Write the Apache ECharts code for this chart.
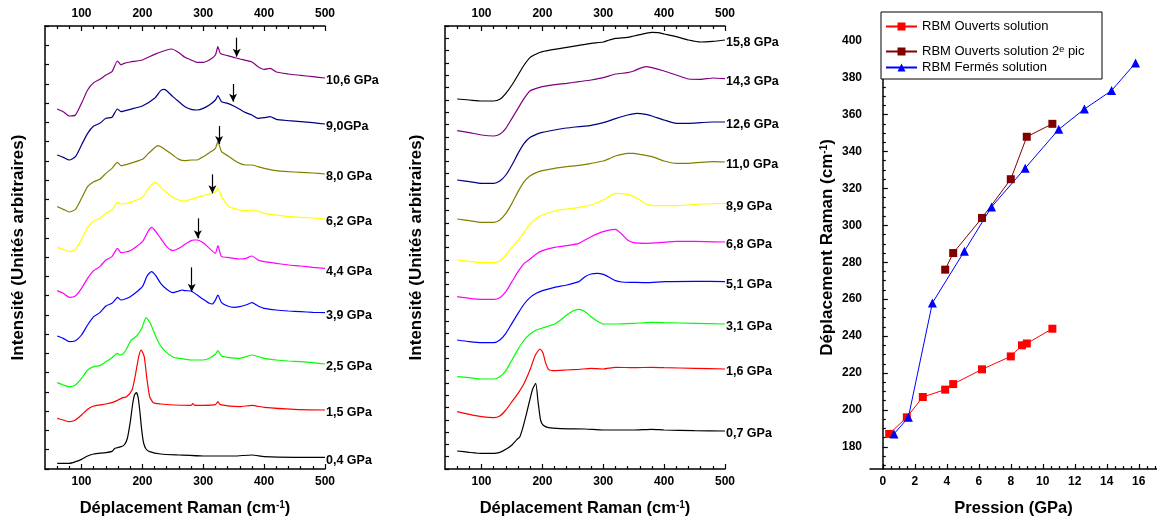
<!DOCTYPE html>
<html><head><meta charset="utf-8">
<script src="https://cdn.jsdelivr.net/npm/echarts@6/dist/echarts.min.js"></script>
<style>html,body{margin:0;padding:0;background:#fff}#c{width:1157px;height:523px}</style>
</head><body><div id="c"></div>
<script>
// ---------- Left panel spectra: [wavenumber (cm-1), stacked intensity (a.u.)] ----------
const L_0_4 = [[60,17],[80,17],[90,22],[100,29],[110,39],[120,45],[140,49],[150,53],[155,62],[165,67],[170,72],[175,90],[180,140],[184,195],[187,222],[190,229],[193,215],[196,170],[199,115],[202,78],[206,60],[212,52],[230,45],[260,42],[300,39],[350,39],[380,42],[400,37],[450,35],[500,35]];
const L_1_5 = [[60,152],[70,147],[80,142],[90,147],[100,162],[110,179],[120,189],[140,195],[150,199],[160,207],[168,214],[174,217],[183,237],[188,277],[194,337],[198,357],[203,337],[207,277],[212,217],[218,199],[230,195],[250,192],[280,191],[283,196],[286,191],[300,191],[320,193],[324,202],[328,193],[360,187],[380,191],[400,185],[450,179],[500,177]];
const L_2_5 = [[60,259],[70,252],[80,247],[90,252],[100,272],[110,297],[120,307],[130,310],[140,322],[150,334],[159,347],[163,342],[168,345],[174,360],[181,385],[191,400],[199,422],[206,454],[213,437],[221,402],[229,372],[238,352],[251,335],[260,332],[280,327],[300,327],[310,332],[320,345],[324,355],[330,339],[340,335],[360,332],[380,342],[400,332],[420,327],[440,324],[460,322],[480,319],[500,315]];
const L_3_9 = [[60,399],[70,392],[80,382],[90,385],[100,402],[110,432],[120,457],[130,469],[140,489],[150,497],[155,507],[159,515],[165,507],[180,517],[200,547],[208,580],[215,592],[222,580],[230,557],[240,539],[250,529],[260,534],[265,537],[270,535],[280,534],[290,522],[300,509],[310,497],[315,495],[320,507],[324,522],[330,499],[340,489],[350,485],[360,487],[370,492],[380,499],[390,489],[400,482],[420,477],[440,474],[460,472],[480,470],[500,469]];
const L_4_4 = [[60,535],[70,527],[80,515],[90,519],[100,542],[110,572],[120,595],[130,607],[140,627],[150,637],[159,662],[165,649],[180,655],[200,682],[210,715],[215,725],[220,717],[230,692],[240,667],[250,655],[260,662],[270,674],[280,685],[285,687],[290,687],[300,679],[310,662],[320,647],[324,670],[330,637],[340,635],[350,632],[360,630],[370,632],[380,639],[390,627],[400,622],[420,617],[440,612],[460,609],[480,605],[500,602]];
const L_6_2 = [[60,665],[70,659],[80,652],[90,659],[100,689],[110,724],[120,744],[130,752],[140,767],[150,777],[159,800],[165,795],[180,800],[200,815],[210,842],[220,860],[225,855],[230,845],[240,829],[250,815],[260,807],[270,804],[280,809],[290,815],[300,820],[310,825],[320,832],[324,842],[330,817],[342,787],[350,782],[360,777],[370,775],[380,777],[390,774],[400,767],[420,762],[440,757],[460,755],[480,753],[500,750]];
const L_8_0 = [[60,787],[70,779],[80,771],[90,779],[100,812],[110,847],[120,862],[130,869],[140,887],[150,902],[159,920],[165,910],[180,917],[200,929],[210,947],[220,964],[226,970],[232,965],[240,955],[250,942],[260,929],[270,925],[280,927],[290,927],[300,937],[310,949],[320,962],[324,982],[330,952],[340,940],[350,927],[360,917],[370,912],[380,912],[390,907],[400,902],[420,895],[440,892],[460,890],[480,888],[500,885]];
const L_9_0 = [[60,942],[70,935],[80,927],[90,937],[100,972],[110,1007],[120,1029],[130,1037],[140,1052],[150,1055],[159,1080],[165,1072],[180,1079],[200,1089],[220,1112],[230,1135],[235,1139],[240,1135],[250,1117],[260,1102],[270,1087],[280,1079],[290,1077],[300,1082],[310,1092],[320,1107],[324,1120],[330,1102],[340,1097],[350,1089],[360,1079],[370,1069],[380,1062],[390,1052],[400,1054],[410,1057],[420,1049],[440,1045],[460,1042],[480,1039],[500,1035]];
const L_10_6 = [[60,1080],[70,1072],[80,1059],[90,1062],[100,1097],[110,1137],[120,1159],[130,1169],[140,1182],[150,1192],[159,1224],[165,1212],[170,1217],[180,1221],[200,1227],[220,1244],[240,1257],[248,1260],[260,1249],[270,1235],[280,1227],[290,1220],[300,1220],[310,1227],[320,1242],[324,1267],[328,1247],[340,1240],[350,1235],[360,1230],[370,1226],[380,1221],[390,1207],[400,1199],[410,1202],[420,1191],[440,1185],[460,1181],[480,1177],[500,1173]];

// ---------- Middle panel spectra ----------
const M_0_7 = [[60,54],[80,50],[100,47],[120,47],[130,50],[140,59],[150,72],[158,88],[163,97],[168,125],[174,167],[179,205],[184,240],[189,257],[193,200],[197,147],[201,132],[210,124],[230,121],[270,120],[300,117],[350,117],[380,119],[400,117],[450,115],[500,114]];
const M_1_6 = [[60,172],[80,164],[100,157],[120,154],[130,159],[140,177],[150,202],[160,227],[170,257],[180,299],[188,340],[196,360],[201,348],[205,320],[210,299],[220,295],[240,297],[260,299],[280,302],[300,300],[320,305],[350,304],[380,305],[400,304],[450,302],[500,300]];
const M_3_1 = [[60,277],[80,274],[100,270],[120,270],[130,277],[140,295],[150,327],[160,359],[170,387],[180,405],[190,417],[200,423],[220,435],[230,447],[240,462],[250,474],[260,479],[270,472],[280,457],[290,444],[300,435],[320,435],[350,437],[380,440],[400,439],[450,437],[500,435]];
const M_5_1 = [[60,387],[80,382],[100,379],[120,379],[130,387],[140,407],[150,437],[160,467],[170,495],[180,515],[190,527],[200,535],[220,545],[240,552],[260,562],[270,577],[280,585],[290,587],[300,584],[310,575],[320,565],[330,561],[350,560],[370,559],[400,562],[450,563],[500,562]];
const M_6_8 = [[60,517],[80,512],[100,509],[120,509],[130,514],[140,532],[150,562],[160,592],[170,617],[180,630],[190,645],[200,655],[220,665],[240,670],[260,677],[280,697],[300,712],[320,719],[330,705],[340,687],[350,679],[370,677],[400,680],[420,683],[450,683],[500,681]];
const M_8_9 = [[60,627],[80,623],[100,619],[120,619],[130,624],[140,642],[150,665],[160,685],[170,710],[180,735],[190,752],[200,762],[220,774],[240,780],[260,785],[280,792],[300,807],[320,827],[340,824],[350,817],[360,807],[370,795],[380,791],[400,790],[420,790],[440,792],[460,795],[480,796],[500,797]];
const M_11_0 = [[60,750],[80,745],[100,740],[120,740],[130,747],[140,767],[150,797],[160,832],[170,862],[180,880],[190,889],[200,895],[220,902],[240,907],[260,911],[280,917],[300,924],[310,931],[320,939],[340,947],[350,947],[360,944],[380,937],[400,924],[420,917],[440,917],[460,920],[480,922],[500,921]];
const M_12_6 = [[60,867],[80,862],[100,857],[120,857],[130,864],[140,882],[150,912],[160,947],[170,977],[180,995],[190,1004],[200,1010],[220,1017],[240,1023],[260,1027],[280,1031],[300,1039],[320,1051],[340,1062],[355,1067],[370,1064],[380,1059],[400,1047],[420,1037],[440,1037],[460,1039],[480,1041],[500,1041]];
const M_14_3 = [[60,1015],[80,1009],[100,1002],[120,999],[130,1004],[140,1022],[150,1052],[160,1082],[170,1112],[180,1135],[190,1142],[200,1147],[220,1153],[240,1157],[260,1162],[280,1167],[300,1174],[320,1185],[340,1189],[350,1194],[360,1202],[370,1207],[380,1204],[400,1194],[420,1182],[440,1170],[460,1169],[480,1173],[500,1171]];
const M_15_8 = [[60,1110],[80,1107],[100,1104],[120,1104],[130,1109],[140,1127],[150,1152],[160,1182],[170,1212],[180,1235],[190,1245],[200,1252],[220,1259],[240,1265],[260,1271],[280,1277],[300,1281],[310,1287],[320,1292],[340,1295],[350,1299],[360,1303],[370,1307],[380,1310],[390,1309],[400,1305],[420,1297],[440,1287],[460,1281],[480,1283],[500,1287]];

// ---------- Spectrum names / colours ----------
const leftNames  = ['0,4 GPa','1,5 GPa','2,5 GPa','3,9 GPa','4,4 GPa','6,2 GPa','8,0 GPa','9,0GPa','10,6 GPa'];
const leftData   = [L_0_4, L_1_5, L_2_5, L_3_9, L_4_4, L_6_2, L_8_0, L_9_0, L_10_6];
const leftColors = ['#000000','#ff0000','#00ff00','#0000ff','#ff00ff','#ffff00','#808000','#000080','#800080'];
const midNames   = ['0,7 GPa','1,6 GPa','3,1 GPa','5,1 GPa','6,8 GPa','8,9 GPa','11,0 GPa','12,6 GPa','14,3 GPa','15,8 GPa'];
const midData    = [M_0_7, M_1_6, M_3_1, M_5_1, M_6_8, M_8_9, M_11_0, M_12_6, M_14_3, M_15_8];
const midColors  = ['#000000','#ff0000','#00ff00','#0000ff','#ff00ff','#ffff00','#808000','#000080','#800080','#000000'];

// arrows marking the second RBM peak (wavenumber, arrow start, arrow tip)
const arrows = [
  {spec:'10,6 GPa', x:355, from:1294, to:1237},
  {spec:'9,0GPa',   x:349, from:1155, to:1102},
  {spec:'8,0 GPa',  x:326, from:1029, to:975},
  {spec:'6,2 GPa',  x:315, from:884,  to:827},
  {spec:'4,4 GPa',  x:291, from:752,  to:692},
  {spec:'3,9 GPa',  x:281, from:605,  to:532}
];

// ---------- Right panel: RBM position vs pressure ----------
const P_open   = [0.4, 1.5, 2.5, 3.9, 4.4, 6.2, 8.0, 8.7, 9.0, 10.6];
const W_open   = [187, 196, 207, 211, 214, 222, 229, 235, 236, 244];
const P_open2  = [3.9, 4.4, 6.2, 8.0, 9.0, 10.6];
const W_open2  = [276, 285, 304, 325, 348, 355];
const P_closed = [0.7, 1.6, 3.1, 5.1, 6.8, 8.9, 11.0, 12.6, 14.3, 15.8];
const W_closed = [187, 196, 258, 286, 310, 331, 352, 363, 373, 388];

// tick labels
const ramanMajor = [100, 200, 300, 400, 500];
const ramanMinor = [60, 80, 120, 140, 160, 180, 220, 240, 260, 280, 320, 340, 360, 380, 420, 440, 460, 480];
const pressMajor = [0, 2, 4, 6, 8, 10, 12, 14, 16];
const pressMinor = [0.5,1,1.5,2.5,3,3.5,4.5,5,5.5,6.5,7,7.5,8.5,9,9.5,10.5,11,11.5,12.5,13,13.5,14.5,15,15.5,16.5,17];
const shiftMajor = [180, 200, 220, 240, 260, 280, 300, 320, 340, 360, 380, 400];
const shiftMinor = [170,175,185,190,195,205,210,215,225,230,235,245,250,255,265,270,275,285,290,295,305,310,315,325,330,335,345,350,355,365,370,375,385,390,395,405];

const FONT = '"Liberation Sans", Arial, Helvetica, sans-serif';
const axLine = {show:true, lineStyle:{color:'#000', width:1.5}};
const tickStyle = {color:'#000', width:1.2};
const titleStyle = {fontFamily:FONT, fontWeight:'bold', fontSize:17, color:'#000',
  rich:{sup:{fontFamily:FONT, fontWeight:'bold', fontSize:10, color:'#000', verticalAlign:'top', lineHeight:12}}};
const xTitleStyle = Object.assign({}, titleStyle, {fontSize:16.5});
const labelStyle = {fontFamily:FONT, fontWeight:'bold', fontSize:12, color:'#000'};

function ramanAxes(g){
  return [
    {type:'value', gridIndex:g, position:'bottom', min:40, max:500, axisLine:axLine,
     axisTick:{show:true, inside:true, length:5, customValues:ramanMajor, lineStyle:tickStyle},
     axisLabel:Object.assign({customValues:ramanMajor, margin:7}, labelStyle), splitLine:{show:false},
     name:'Déplacement Raman (cm{sup|-1})', nameLocation:'middle', nameGap:31, nameTextStyle:xTitleStyle},
    {type:'value', gridIndex:g, position:'top', min:40, max:500, axisLine:axLine,
     axisTick:{show:true, inside:true, length:5, customValues:ramanMajor, lineStyle:tickStyle},
     axisLabel:Object.assign({customValues:ramanMajor, margin:6}, labelStyle), splitLine:{show:false}},
    {type:'value', gridIndex:g, position:'bottom', min:40, max:500, axisLine:{show:false},
     axisTick:{show:true, inside:true, length:3, customValues:ramanMinor, lineStyle:tickStyle},
     axisLabel:{show:false}, splitLine:{show:false}},
    {type:'value', gridIndex:g, position:'top', min:40, max:500, axisLine:{show:false},
     axisTick:{show:true, inside:true, length:3, customValues:ramanMinor, lineStyle:tickStyle},
     axisLabel:{show:false}, splitLine:{show:false}}
  ];
}
function intensityAxis(g, n, gap){
  return {type:'value', gridIndex:g, position:'left', min:0, max:1329, interval:1329/n, axisLine:axLine,
    axisTick:{show:true, inside:true, length:4, lineStyle:tickStyle}, axisLabel:{show:false},
    splitLine:{show:false}, name:'Intensité (Unités arbitraires)', nameLocation:'middle',
    nameRotate:90, nameGap:gap, nameTextStyle:titleStyle};
}

function specSeries(names, datas, colors, xi, yi){
  return names.map((nm, i) => {
    const s = {type:'line', name:nm, xAxisIndex:xi, yAxisIndex:yi, data:datas[i],
      showSymbol:false, symbol:'none', smooth:0.2, color:colors[i],
      lineStyle:{color:colors[i], width:1.2}, emphasis:{disabled:true},
      endLabel:{show:true, formatter:nm, distance:1, offset:[0,3], fontFamily:FONT, fontWeight:'bold', fontSize:12.5, color:'#000'}};
    const arr = arrows.filter(a => a.spec === nm);
    if (arr.length) {
      s.markLine = {silent:true, symbol:['none','arrow'], symbolSize:[6,8], animation:false,
        lineStyle:{color:'#000', width:1.2, type:'solid'}, label:{show:false}, emphasis:{disabled:true},
        data: arr.map(a => [{coord:[a.x, a.from]}, {coord:[a.x, a.to]}])};
    }
    return s;
  });
}

const zip = (a, b) => a.map((v, i) => [v, b[i]]);
const legendText = {fontFamily:FONT, fontSize:13, color:'#000',
  rich:{sup:{fontFamily:FONT, fontSize:9, color:'#000', verticalAlign:'top', lineHeight:9}}};
const legendBase = {left:885, padding:0, itemWidth:31, itemHeight:10, itemGap:0, textStyle:legendText, z:5};

const option = {
  animation:false,
  backgroundColor:'#fff',
  grid:[
    {left:45, top:26, width:280, height:443},
    {left:445, top:26, width:280, height:443},
    {left:870, top:26, width:287, height:443}
  ],
  xAxis:[].concat(ramanAxes(0), ramanAxes(1), [
    {type:'value', gridIndex:2, position:'bottom', min:-0.8, max:17.14, axisLine:axLine,
     axisTick:{show:true, inside:true, length:5, customValues:pressMajor, lineStyle:tickStyle},
     axisLabel:Object.assign({customValues:pressMajor, margin:7}, labelStyle), splitLine:{show:false},
     name:'Pression (GPa)', nameLocation:'middle', nameGap:31, nameTextStyle:xTitleStyle},
    {type:'value', gridIndex:2, position:'bottom', min:-0.8, max:17.14, axisLine:{show:false},
     axisTick:{show:true, inside:true, length:3, customValues:pressMinor, lineStyle:tickStyle},
     axisLabel:{show:false}, splitLine:{show:false}}
  ]),
  yAxis:[
    intensityAxis(0, 23, 18),
    intensityAxis(1, 36, 20),
    {type:'value', gridIndex:2, position:'left', min:168, max:408, axisLine:axLine,
     axisTick:{show:true, inside:true, length:5, customValues:shiftMajor, lineStyle:tickStyle},
     axisLabel:Object.assign({customValues:shiftMajor, margin:8}, labelStyle), splitLine:{show:false},
     name:'Déplacement Raman (cm{sup|-1})', nameLocation:'middle', nameRotate:90, nameGap:34, nameTextStyle:titleStyle},
    {type:'value', gridIndex:2, position:'left', min:168, max:408, axisLine:{show:false},
     axisTick:{show:true, inside:true, length:3, customValues:shiftMinor, lineStyle:tickStyle},
     axisLabel:{show:false}, splitLine:{show:false}}
  ],
  graphic:[{type:'rect', left:880.5, top:11.5, z:1, silent:true,
    shape:{width:221, height:67}, style:{fill:'#fff', stroke:'#000', lineWidth:1}}],
  legend:[
    Object.assign({data:['RBM Ouverts solution'], top:20}, legendBase),
    Object.assign({data:['RBM Ouverts solution 2e pic'], top:45,
      formatter: () => 'RBM Ouverts solution 2{sup|e} pic'}, legendBase),
    Object.assign({data:['RBM Fermés solution'], top:61}, legendBase)
  ],
  series:[].concat(
    specSeries(leftNames, leftData, leftColors, 0, 0),
    specSeries(midNames, midData, midColors, 4, 1),
    [
      {type:'line', name:'RBM Ouverts solution', xAxisIndex:8, yAxisIndex:2, data:zip(P_open, W_open),
       symbol:'rect', symbolSize:8, color:'#ff0000', lineStyle:{width:1}, emphasis:{disabled:true}},
      {type:'line', name:'RBM Ouverts solution 2e pic', xAxisIndex:8, yAxisIndex:2, data:zip(P_open2, W_open2),
       symbol:'rect', symbolSize:8, color:'#800000', lineStyle:{width:1}, emphasis:{disabled:true}},
      {type:'line', name:'RBM Fermés solution', xAxisIndex:8, yAxisIndex:2, data:zip(P_closed, W_closed),
       symbol:'triangle', symbolSize:9, color:'#0000ff', lineStyle:{width:1}, emphasis:{disabled:true}}
    ]
  )
};

const chart = echarts.init(document.getElementById('c'), null, {renderer:'canvas'});
chart.setOption(option);
</script></body></html>
